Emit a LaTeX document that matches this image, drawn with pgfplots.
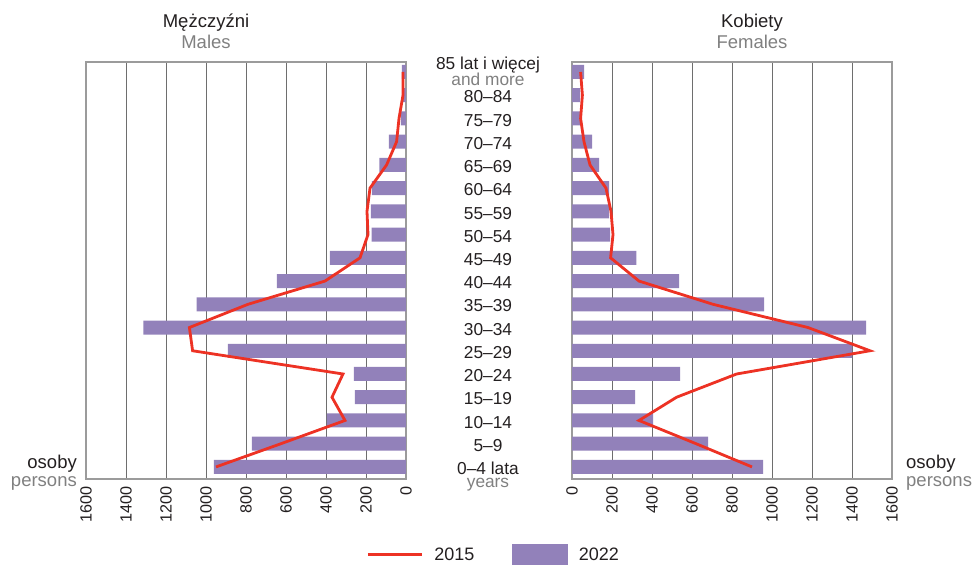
\documentclass[border=0pt]{standalone}
\usepackage{pgfplots}
\pgfplotsset{compat=1.18}
\usepackage{pgfplotstable}
\usepackage{fontspec}
\setmainfont{Liberation Sans}
\definecolor{purp}{RGB}{146,129,186}
\definecolor{redl}{RGB}{237,50,36}
\definecolor{txt}{RGB}{35,31,32}
\definecolor{gtxt}{RGB}{128,128,128}
\definecolor{gridc}{RGB}{110,110,110}
\definecolor{framec}{RGB}{155,155,155}

\pgfplotstableread{
y m22 m15 f22 f15
0 960 950 955 900
1 770 625 680 620
2 395 305 405 335
3 255 370 315 523
4 260 315 540 823
5 890 1067 1400 1490
6 1313 1083 1470 1180
7 1047 790 960 705
8 645 405 535 335
9 380 230 322 193
10 172 190 190 205
11 175 195 185 195
12 170 180 185 170
13 133 97 135 90
14 85 47 100 60
15 25 35 40 43
16 15 15 40 52
17 20 15 60 43
}\data

\pgfplotsset{pyr/.style={
  scale only axis, width=320pt, height=417pt,
  xmin=0, xmax=1600, ymin=-0.52, ymax=17.43,
  xtick={0,200,...,1600}, ytick=\empty,
  xmajorgrids, major grid style={gridc, line width=0.9pt},
  axis line style={framec, line width=1.2pt},
  major tick length=0pt,
  xticklabel shift=4pt,
  xticklabel style={rotate=90, anchor=east, font=\fontsize{16.2}{16.2}\selectfont, text=txt},
  /pgf/number format/1000 sep={},
  /pgf/number format/assume math mode=true,
  clip=false}}

\tikzset{cat/.style={anchor=base, inner sep=0pt, font=\fontsize{17.3}{17.3}\selectfont, text=txt},
         gcat/.style={anchor=base, inner sep=0pt, font=\fontsize{17.3}{17.3}\selectfont, text=gtxt}}

\begin{document}
\begin{tikzpicture}
\useasboundingbox (0,0) rectangle (975pt,565pt);

\begin{axis}[pyr, at={(86pt,86pt)}, anchor=south west, x dir=reverse]
\addplot[xbar, bar width=14pt, bar shift=0pt, fill=purp, draw=none] table[x=m22,y=y]{\data};
\addplot[redl, line width=2.8pt] table[x=m15,y=y]{\data};
\end{axis}

\begin{axis}[pyr, at={(572pt,86pt)}, anchor=south west,
  legend style={draw=none, fill=none, at={(axis description cs:-0.245,-0.182)}, anchor=center,
    font=\fontsize{18}{18}\selectfont, text=txt, legend columns=2,
    /tikz/every odd column/.append style={column sep=9pt},
    /tikz/every even column/.append style={column sep=36pt}},
  legend cell align=left]
\addlegendimage{legend image code/.code={\draw[redl, line width=3pt] (0pt,0pt) -- (54pt,0pt);}}
\addlegendentry{2015}
\addlegendimage{legend image code/.code={\fill[purp] (0pt,-11pt) rectangle (55pt,11pt);}}
\addlegendentry{2022}
\addplot[xbar, bar width=14pt, bar shift=0pt, fill=purp, draw=none, forget plot] table[x=f22,y=y]{\data};
\addplot[redl, line width=2.8pt, forget plot] table[x=f15,y=y]{\data};

\node[cat] at (axis cs:-420,17) [yshift=2pt] {85 lat i więcej};
\node[gcat] at (axis cs:-420,17) [yshift=-13.5pt] {and more};
\node[cat] at (axis cs:-420,16) [yshift=-7.7pt] {80–84};
\node[cat] at (axis cs:-420,15) [yshift=-7.7pt] {75–79};
\node[cat] at (axis cs:-420,14) [yshift=-7.7pt] {70–74};
\node[cat] at (axis cs:-420,13) [yshift=-7.7pt] {65–69};
\node[cat] at (axis cs:-420,12) [yshift=-7.7pt] {60–64};
\node[cat] at (axis cs:-420,11) [yshift=-7.7pt] {55–59};
\node[cat] at (axis cs:-420,10) [yshift=-7.7pt] {50–54};
\node[cat] at (axis cs:-420,9) [yshift=-7.7pt] {45–49};
\node[cat] at (axis cs:-420,8) [yshift=-7.7pt] {40–44};
\node[cat] at (axis cs:-420,7) [yshift=-7.7pt] {35–39};
\node[cat] at (axis cs:-420,6) [yshift=-7.7pt] {30–34};
\node[cat] at (axis cs:-420,5) [yshift=-7.7pt] {25–29};
\node[cat] at (axis cs:-420,4) [yshift=-7.7pt] {20–24};
\node[cat] at (axis cs:-420,3) [yshift=-7.7pt] {15–19};
\node[cat] at (axis cs:-420,2) [yshift=-7.7pt] {10–14};
\node[cat] at (axis cs:-420,1) [yshift=-7.7pt] {5–9};
\node[cat] at (axis cs:-420,0) [yshift=-7.5pt] {0–4 lata};
\node[gcat] at (axis cs:-420,0) [yshift=-21pt] {years};
\end{axis}

\node[anchor=base, font=\fontsize{18.5}{18.5}\selectfont, text=txt] at (206pt,537pt) {Mężczyźni};
\node[anchor=base, font=\fontsize{18.5}{18.5}\selectfont, text=gtxt] at (206pt,516pt) {Males};
\node[anchor=base, font=\fontsize{18.5}{18.5}\selectfont, text=txt] at (752pt,537pt) {Kobiety};
\node[anchor=base, font=\fontsize{18.5}{18.5}\selectfont, text=gtxt] at (752pt,516pt) {Females};

\node[anchor=base east, inner sep=0pt, font=\fontsize{18.5}{18.5}\selectfont, text=txt] at (77pt,96pt) {osoby};
\node[anchor=base east, inner sep=0pt, font=\fontsize{18.5}{18.5}\selectfont, text=gtxt] at (77pt,78pt) {persons};
\node[anchor=base west, inner sep=0pt, font=\fontsize{18.5}{18.5}\selectfont, text=txt] at (906pt,96pt) {osoby};
\node[anchor=base west, inner sep=0pt, font=\fontsize{18.5}{18.5}\selectfont, text=gtxt] at (906pt,78pt) {persons};
\end{tikzpicture}
\end{document}
